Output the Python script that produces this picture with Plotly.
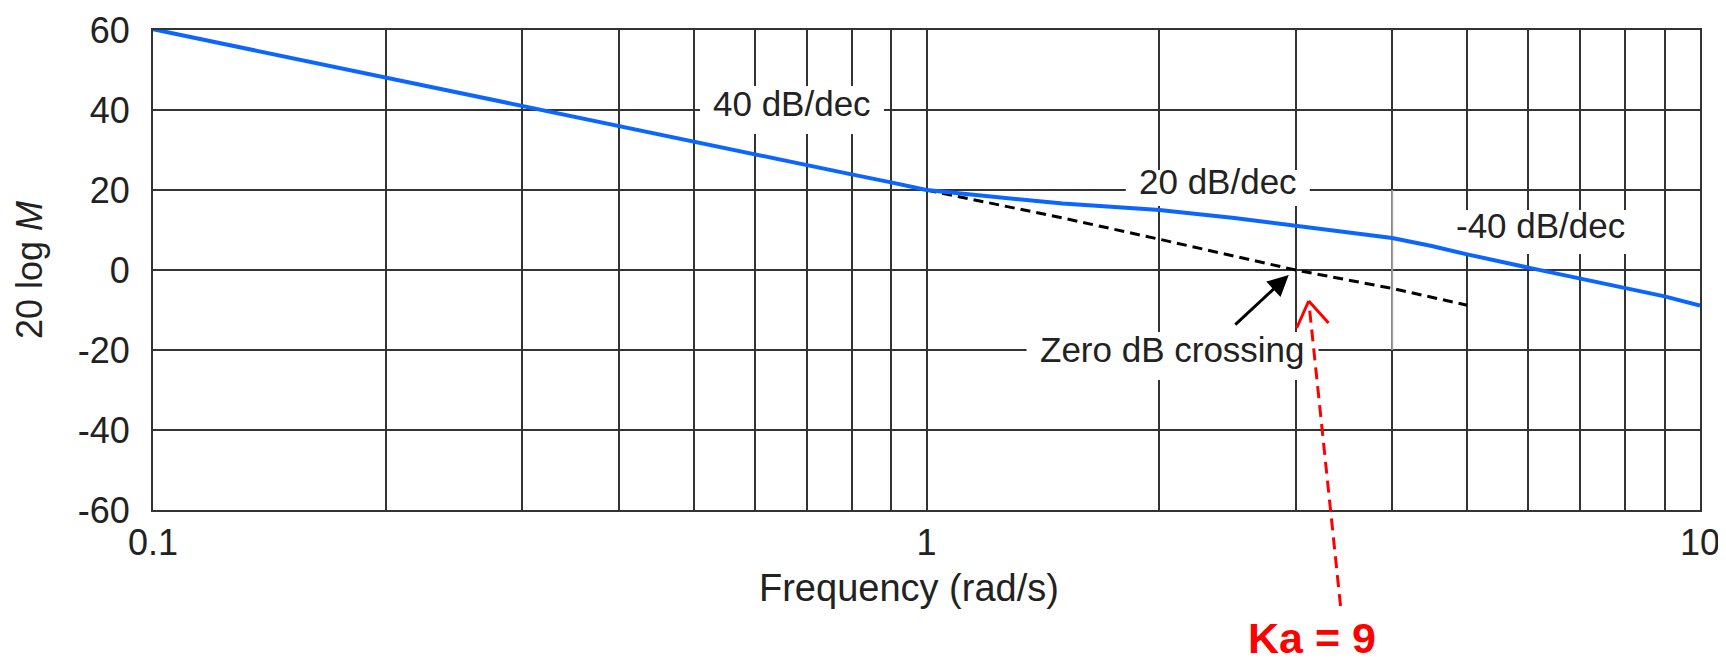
import numpy as np
import plotly.graph_objects as go

# ---- data ----
freq_mag = [0.1, 0.2, 0.3, 0.4, 0.5, 0.6, 0.7, 0.8, 0.9, 1.0, 1.5, 2.0, 2.5, 3.0, 3.5, 4.0, 4.5, 5.0, 6.0, 7.0, 8.0, 9.0, 10.0]
mag_db = [60.2, 48.1, 40.8, 35.8, 32.0, 28.9, 26.2, 23.9, 21.9, 20.0, 16.6, 15.0, 13.0, 11.1, 9.6, 8.0, 6.0, 3.9, 0.6, -2.2, -4.5, -6.6, -8.9]

freq_ref = [1.0, 1.5, 2.0, 3.0, 4.0, 5.0]
ref_db = [20.0, 13.0, 7.7, 0.0, -4.6, -8.8]

grey_x = [4, 4]
grey_y = [20, -20]

x_tick_vals = [0.1, 1, 10]
x_tick_text = ["0.1", "1", "10"]
x_minor_vals = [0.2, 0.3, 0.4, 0.5, 0.6, 0.7, 0.8, 0.9, 2, 3, 4, 5, 6, 7, 8, 9]
y_tick_vals = [-60, -40, -20, 0, 20, 40, 60]
y_tick_text = ["-60", "-40", "-20", "0", "20", "40", "60"]

# annotation anchor points (data units) and white label-box half sizes (px: half-width, half-height)
labels = [("40 dB/dec", 0.67, 40.0, (92, 24)),
          ("20 dB/dec", 2.38, 20.5, (92, 18)),
          ("-40 dB/dec", 6.22, 9.5, (96, 22)),
          ("Zero dB crossing", 2.08, -21.5, (146, 24))]
zero_cross = (2.94, -1.25)
red_head = (3.12, -7.75)
red_tail = (3.43, -84.0)
red_arm1 = (3.01, -14.5)
red_arm2 = (3.31, -13.25)
ka_pos = (3.15, -92.0)
xtitle_pos = (0.95, -79.5)

XMIN, XMAX = -1, 1   # log10 range
YMIN, YMAX = -60, 60
PLOT_W, PLOT_H = 1547, 480

def px(x):
    return (np.log10(x) - XMIN) / (XMAX - XMIN)

def py(y):
    return (y - YMIN) / (YMAX - YMIN)

FONT = "Arial, Liberation Sans, sans-serif"
TXT = "#222222"
GRID = "#333333"

fig = go.Figure()
fig.add_trace(go.Scatter(x=grey_x, y=grey_y, mode="lines",
                         line=dict(color="#a0a0a0", width=2), hoverinfo="skip"))
fig.add_trace(go.Scatter(x=freq_ref, y=ref_db, mode="lines",
                         line=dict(color="black", width=3, dash="10px,6px")))
fig.add_trace(go.Scatter(x=freq_mag, y=mag_db, mode="lines",
                         line=dict(color="#0a66ff", width=4)))

annotations = []
shapes = []
for t, x, y, (hw, hh) in labels:
    annotations.append(dict(x=np.log10(x), y=y, xref="x", yref="y", text=t,
                            showarrow=False, xanchor="center", yanchor="middle", yshift=7,
                            font=dict(family=FONT, size=35, color=TXT)))
    dx = hw / PLOT_W * (XMAX - XMIN)      # in decades
    dy = hh / PLOT_H * (YMAX - YMIN)      # in dB
    shapes.append(dict(type="rect", xref="x", yref="y", layer="between",
                       x0=x * 10 ** (-dx), x1=x * 10 ** dx, y0=y - dy, y1=y + dy,
                       fillcolor="white", line=dict(width=0)))
annotations.append(dict(x=np.log10(zero_cross[0]), y=zero_cross[1], xref="x", yref="y",
                        text="", showarrow=True, ax=-55, ay=51, arrowhead=2,
                        arrowsize=1.4, arrowwidth=3, arrowcolor="black", standoff=0))
annotations.append(dict(x=px(ka_pos[0]), y=py(ka_pos[1]), xref="paper", yref="paper",
                        text="<b>Ka = 9</b>", showarrow=False, xanchor="center", yanchor="middle",
                        font=dict(family=FONT, size=43, color="#ff0000")))
annotations.append(dict(x=px(xtitle_pos[0]), y=py(xtitle_pos[1]), xref="paper", yref="paper",
                        text="Frequency (rad/s)", showarrow=False, xanchor="center", yanchor="middle",
                        font=dict(family=FONT, size=38, color=TXT)))

shapes += [
    dict(type="line", xref="paper", yref="paper",
         x0=px(red_tail[0]), y0=py(red_tail[1]), x1=px(red_head[0]), y1=py(red_head[1]),
         line=dict(color="#ff0000", width=3, dash="12px,7px")),
    dict(type="line", xref="paper", yref="paper",
         x0=px(red_arm1[0]), y0=py(red_arm1[1]), x1=px(red_head[0]), y1=py(red_head[1]),
         line=dict(color="#ff0000", width=3)),
    dict(type="line", xref="paper", yref="paper",
         x0=px(red_arm2[0]), y0=py(red_arm2[1]), x1=px(red_head[0]), y1=py(red_head[1]),
         line=dict(color="#ff0000", width=3)),
]

fig.update_layout(
    width=1726, height=664,
    margin=dict(l=145, r=34, t=22, b=162, autoexpand=False),
    paper_bgcolor="white", plot_bgcolor="white",
    showlegend=False,
    font=dict(family=FONT, size=36, color=TXT),
    annotations=annotations, shapes=shapes,
    xaxis=dict(type="log", range=[XMIN, XMAX], tickvals=x_tick_vals, ticktext=x_tick_text,
               showgrid=True, gridcolor=GRID, gridwidth=2,
               minor=dict(tickvals=x_minor_vals, showgrid=True, gridcolor=GRID, gridwidth=2),
               showline=True, linecolor=GRID, linewidth=2, mirror=True,
               ticks="", ticklen=0, zeroline=False, automargin=False,
               tickfont=dict(size=36, color=TXT)),
    yaxis=dict(range=[YMIN, YMAX], tickvals=y_tick_vals, ticktext=y_tick_text,
               showgrid=True, gridcolor=GRID, gridwidth=2,
               showline=True, linecolor=GRID, linewidth=2, mirror=True,
               ticks="", ticklen=0, ticklabelstandoff=14, zeroline=False, automargin=False,
               tickfont=dict(size=36, color=TXT),
               title=dict(text="20 log <i>M</i>", font=dict(size=36, color=TXT), standoff=24)),
)

fig.write_html("out.html")
